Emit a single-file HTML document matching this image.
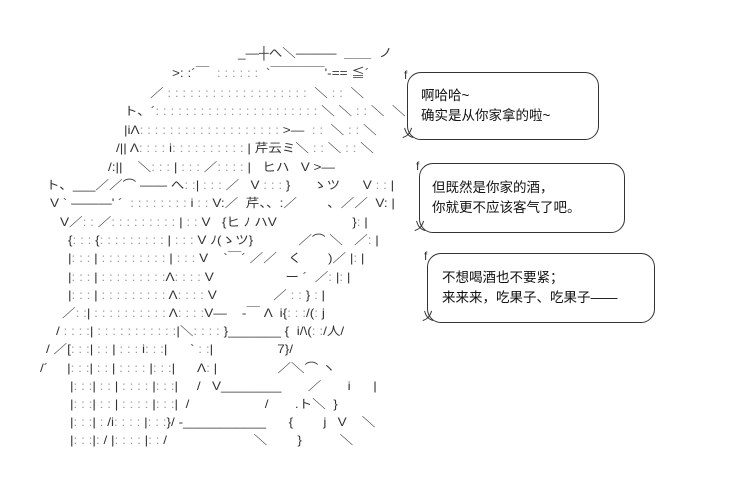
<!DOCTYPE html>
<html><head><meta charset="utf-8"><style>
html,body{margin:0;padding:0;background:#fff;width:749px;height:478px;overflow:hidden}
.a{position:absolute;white-space:pre;font-family:"Liberation Sans","Noto Sans CJK JP",sans-serif;font-size:12px;line-height:14px;color:#333}
.s{transform:scaleX(1.13);transform-origin:0 0}
.d{color:#999}
.b{position:absolute;border:1px solid #333;border-radius:14px}
.t{position:absolute;white-space:pre;font-family:"Liberation Sans","Noto Sans CJK SC",sans-serif;font-size:13.5px;line-height:20px;color:#111}
</style></head><body>
<div class="a s" style="left:238px;top:46px">_―┼へ＼―――  ＿＿  ノ</div>
<div class="a s" style="left:172px;top:66px">&gt;: :´￣  <span class="d">: : : : : :</span>  `￣￣￣￣'‐== ≦´</div>
<div class="a s" style="left:150px;top:86px">／ <span class="d">: : : : : : : : : : : : : : : : : : :</span>  ＼ <span class="d">: :</span>  ＼</div>
<div class="a s" style="left:124px;top:104px">ト、´<span class="d">: : : : : : : : : : : : : : : : : : : : : :</span> ＼ ＼ <span class="d">: :</span> ＼  ＼</div>
<div class="a s" style="left:124px;top:123px">|iΛ<span class="d">: : : : : : : : : : : : : : : : : : :</span> &gt;―  <span class="d">: :</span>  ＼ <span class="d">: :</span> ＼</div>
<div class="a s" style="left:116px;top:141px">/|| Λ<span class="d">: : : :</span> i<span class="d">: : : : : : : : : :</span> | 芹云ミ＼ <span class="d">: :</span> ＼ <span class="d">: :</span> ＼</div>
<div class="a s" style="left:108px;top:160px">/:||    ＼<span class="d">: : :</span> | <span class="d">: : :</span> ／<span class="d">: : : :</span> |   ヒハ   V &gt;―</div>
<div class="a s" style="left:46px;top:178px">ト、___／／⌒ ―― へ<span class="d">: :</span>| <span class="d">: : :</span> ／   V <span class="d">: : :</span> }      ゝツ      V <span class="d">: :</span> |</div>
<div class="a s" style="left:50px;top:196px">V ` ―――' ´  <span class="d">: : : : : : : :</span> i <span class="d">: :</span> V:／  芹、、:／        、／／  V: |</div>
<div class="a s" style="left:60px;top:215px">V／<span class="d">: :</span> ／<span class="d">: : : : : : : : :</span> | <span class="d">: :</span> V   {ヒ ﾉ ハV                    }<span class="d">:</span> |</div>
<div class="a s" style="left:68px;top:233px">{<span class="d">: : :</span> {<span class="d">: : : : : : : : :</span> | <span class="d">: : :</span> V ﾉ(ゝツ}            ／⌒ ＼   ／<span class="d">:</span> |</div>
<div class="a s" style="left:68px;top:251px">|<span class="d">: : :</span> | <span class="d">: : : : : : : : :</span> | <span class="d">: : :</span> V    `￣´ ／／   く       )／ |<span class="d">:</span> |</div>
<div class="a s" style="left:68px;top:270px">|<span class="d">: : :</span> | <span class="d">: : : : : : : : :</span>Λ<span class="d">: : : :</span> V                   ー ´  ／<span class="d">:</span> |<span class="d">:</span> |</div>
<div class="a s" style="left:68px;top:288px">|<span class="d">: : :</span> | <span class="d">: : : : : : : : :</span> Λ<span class="d">: : : :</span> V               ／ <span class="d">: :</span> } <span class="d">:</span> |</div>
<div class="a s" style="left:62px;top:306px">／<span class="d">: :</span>| <span class="d">: : : : : : : : : :</span> Λ<span class="d">: : : :</span>V―    ‐￣ Λ  i{<span class="d">: : :</span>/(<span class="d">:</span> j</div>
<div class="a s" style="left:56px;top:324px">/ <span class="d">: : : :</span>| <span class="d">: : : : : : : : : : :</span>|＼<span class="d">: : : :</span> }_______ {  i/\(<span class="d">: :</span>/人/</div>
<div class="a s" style="left:46px;top:342px">/ ／[<span class="d">: : :</span>| <span class="d">: :</span> | <span class="d">: : :</span> i<span class="d">:</span> <span class="d">: :</span>|      ` <span class="d">: :</span>|                 7}/</div>
<div class="a s" style="left:40px;top:361px">/´     |<span class="d">: : :</span>| <span class="d">: :</span> | <span class="d">: : : :</span> |<span class="d">: : :</span>|      Λ<span class="d">:</span> |                ／＼⌒ ヽ</div>
<div class="a s" style="left:70px;top:379px">|<span class="d">: : :</span>| <span class="d">: :</span> | <span class="d">: : : :</span> |<span class="d">: : :</span>|     /   V________       ／       i      |</div>
<div class="a s" style="left:70px;top:397px">|<span class="d">: : :</span>| <span class="d">: :</span> | <span class="d">: : : :</span> |<span class="d">: : :</span>|  /                    /       .ト＼  }</div>
<div class="a s" style="left:70px;top:415px">|<span class="d">: : :</span>| <span class="d">:</span> /i<span class="d">: : : :</span> |<span class="d">: : :</span>}/ ‐___________      {        j   V    ＼</div>
<div class="a s" style="left:70px;top:433px">|<span class="d">: : :</span>|<span class="d">:</span> / |<span class="d">: : : :</span> |<span class="d">: :</span> /                       ＼        }          ＼</div>

<div class="b" style="left:407px;top:72px;width:190px;height:66px"></div>
<div class="a" style="left:404px;top:68px">f</div>
<div class="a" style="left:402px;top:126px">乂</div>
<div class="t" style="left:421px;top:86px">啊哈哈~
确实是从你家拿的啦~</div>

<div class="b" style="left:419px;top:163px;width:204px;height:68px"></div>
<div class="a" style="left:416px;top:159px">f</div>
<div class="a" style="left:414px;top:219px">乂</div>
<div class="t" style="left:432px;top:178px">但既然是你家的酒，
你就更不应该客气了吧。</div>

<div class="b" style="left:427px;top:253px;width:226px;height:68px"></div>
<div class="a" style="left:424px;top:249px">f</div>
<div class="a" style="left:422px;top:309px">乂</div>
<div class="t" style="left:442px;top:268px">不想喝酒也不要紧；
来来来，吃果子、吃果子——</div>
</body></html>
